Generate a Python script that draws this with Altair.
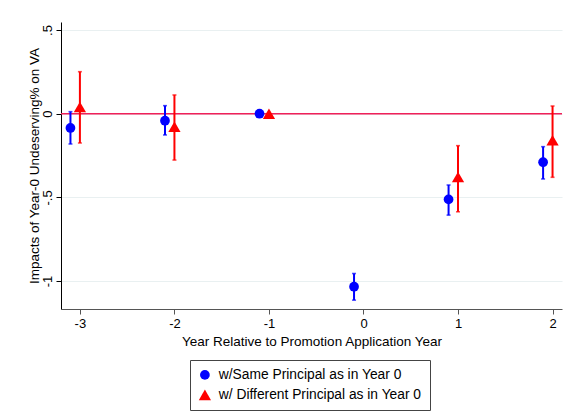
import altair as alt
import pandas as pd

series_names = ["w/Same Principal as in Year 0", "w/ Different Principal as in Year 0"]

# Same principal (plotted slightly left of each year)
same_x = [-3.1, -2.1, -1.1, -0.1, 0.9, 1.9]
same_est = [-0.085, -0.042, 0.0, -1.034, -0.512, -0.290]
same_lo = [-0.181, -0.127, None, -1.114, -0.606, -0.390]
same_hi = [0.012, 0.048, None, -0.955, -0.426, -0.197]

# Different principal
diff_x = [-3, -2, -1, 1, 2]
diff_est = [0.040, -0.078, 0.0, -0.378, -0.159]
diff_lo = [-0.175, -0.277, None, -0.586, -0.380]
diff_hi = [0.251, 0.112, None, -0.191, 0.046]

x_ticks = [-3, -2, -1, 0, 1, 2]
y_ticks = [0.5, 0, -0.5, -1]

rows = []
for x, e, lo, hi in zip(same_x, same_est, same_lo, same_hi):
    rows.append({"x": x, "est": e, "lo": lo, "hi": hi, "series": series_names[0]})
for x, e, lo, hi in zip(diff_x, diff_est, diff_lo, diff_hi):
    rows.append({"x": x, "est": e, "lo": lo, "hi": hi, "series": series_names[1]})
df = pd.DataFrame(rows)

FONT = "Liberation Sans"
colors = ["#0000ff", "#ff0000"]
shapes = ["circle", "triangle-up"]
sizes = [95, 150]

xscale = alt.Scale(domain=[-3.2, 2.1], nice=False, zero=False)
yscale = alt.Scale(domain=[-1.167, 0.548], nice=False, zero=False)

x_axis = alt.Axis(values=x_ticks, title="Year Relative to Promotion Application Year",
                  labelExpr="'' + datum.value", grid=False, domainColor="#555555",
                  tickColor="#555555", tickSize=5, labelColor="#000000", labelFontSize=13,
                  titleFontSize=13.5, titleFontWeight="normal", titleColor="#000000",
                  labelPadding=3, titlePadding=4, labelFont=FONT, titleFont=FONT)
y_axis = alt.Axis(values=y_ticks, title="Impacts of Year-0 Undeserving% on VA",
                  labelExpr="datum.value == 0.5 ? '.5' : datum.value == -0.5 ? '-.5' : datum.value == -1 ? '-1' : '0'",
                  grid=True, gridColor="#e9f0f1", gridWidth=1.2, domainColor="#000000",
                  tickColor="#000000", tickSize=5, labelAngle=270, labelAlign="center",
                  labelBaseline="bottom", labelColor="#000000", labelFontSize=13,
                  titleFontSize=13.5, titleFontWeight="normal", titleColor="#000000",
                  labelPadding=2, titlePadding=0, labelFont=FONT, titleFont=FONT)

zero = alt.Chart(pd.DataFrame({"y": [0]})).mark_rule(color="#f0205a", strokeWidth=1.5, opacity=1).encode(
    y=alt.Y("y:Q", scale=yscale, axis=y_axis)
)

layers = [zero]
for name, col in zip(series_names, colors):
    sub = df[(df["series"] == name)].dropna(subset=["lo", "hi"])
    layers.append(alt.Chart(sub).mark_rule(strokeWidth=2, color=col).encode(
        x=alt.X("x:Q", scale=xscale), y=alt.Y("lo:Q", scale=yscale), y2="hi:Q"))
    layers.append(alt.Chart(sub).mark_tick(orient="horizontal", size=4, thickness=1.6, color=col).encode(
        x=alt.X("x:Q", scale=xscale), y=alt.Y("lo:Q", scale=yscale)))
    layers.append(alt.Chart(sub).mark_tick(orient="horizontal", size=4, thickness=1.6, color=col).encode(
        x=alt.X("x:Q", scale=xscale), y=alt.Y("hi:Q", scale=yscale)))

leg = alt.Legend(title=None, orient="none", legendX=129, legendY=338,
                 strokeColor="#444444", padding=8, labelFontSize=13.8,
                 labelFont=FONT, labelColor="#000000", symbolSize=130,
                 rowPadding=5, labelOffset=7, symbolStrokeWidth=0, labelLimit=400)

points = alt.Chart(df).mark_point(filled=True, opacity=1).encode(
    x=alt.X("x:Q", scale=xscale, axis=x_axis),
    y=alt.Y("est:Q", scale=yscale),
    color=alt.Color("series:N", scale=alt.Scale(domain=series_names, range=colors), legend=leg),
    shape=alt.Shape("series:N", scale=alt.Scale(domain=series_names, range=shapes), legend=leg),
    size=alt.Size("series:N", scale=alt.Scale(domain=series_names, range=sizes), legend=None),
)
layers.append(points)

chart = alt.layer(*layers).properties(
    width=501, height=287,
    autosize=alt.AutoSizeParams(type="none"),
    padding={"left": 61, "top": 22, "right": 11, "bottom": 110},
    background="white",
).configure_view(stroke=None)

chart.save("out.html", embed_options={"renderer": "svg", "actions": False})
